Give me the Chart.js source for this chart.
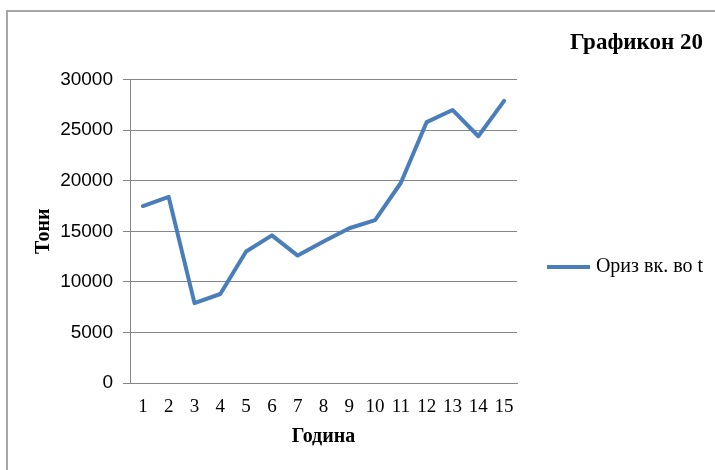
<!DOCTYPE html>
<html>
<head>
<meta charset="utf-8">
<script src="https://cdn.jsdelivr.net/npm/chart.js@4/dist/chart.umd.min.js"></script>
<style>
  html, body { margin: 0; padding: 0; background: #fff; overflow: hidden; }
  #frame { position: absolute; left: 6px; top: 10px; width: 800px; height: 600px;
           border-left: 2px solid #a6a6a6; border-top: 2px solid #a6a6a6; }
  #wrap { position: absolute; left: 0; top: 0; width: 715px; height: 470px; }
</style>
</head>
<body>
<div id="frame"></div>
<div id="wrap"><canvas id="c" width="715" height="470"></canvas></div>
<script>
const categories = ['1','2','3','4','5','6','7','8','9','10','11','12','13','14','15'];
const seriesName = 'Ориз вк. во t';
const riceValues = [17500, 18400, 7900, 8800, 13000, 14600, 12600, 14000, 15300, 16100, 19800, 25800, 27000, 24400, 27900];
const yTicks = [0, 5000, 10000, 15000, 20000, 25000, 30000];
const chartTitle = 'Графикон 20';
const xTitle = 'Година';
const yTitle = 'Тони';

const gray = '#868686';
const blue = '#4a7ebb';

new Chart(document.getElementById('c'), {
  type: 'line',
  data: {
    labels: categories,
    datasets: [{
      label: seriesName,
      data: riceValues,
      borderColor: blue,
      backgroundColor: blue,
      borderWidth: 4,
      pointRadius: 0,
      pointHoverRadius: 0,
      tension: 0,
      borderJoinStyle: 'round',
      borderCapStyle: 'round',
      fill: false
    }]
  },
  options: {
    responsive: false,
    animation: false,
    devicePixelRatio: 1,
    layout: { padding: { top: 20, right: 12, left: 0, bottom: 0 } },
    plugins: {
      title: {
        display: true,
        text: chartTitle,
        align: 'end',
        color: '#000',
        font: { family: 'Liberation Serif', size: 23, weight: 'bold' },
        padding: { top: 9, bottom: 23 }
      },
      legend: {
        display: true,
        position: 'right',
        maxWidth: 186,
        title: { display: true, text: ' ', font: { size: 10 }, padding: { top: 16, bottom: 16 } },
        labels: {
          usePointStyle: true,
          pointStyle: 'line',
          pointStyleWidth: 43,
          padding: 30,
          textAlign: 'right',
          color: '#000',
          font: { family: 'Liberation Serif', size: 20 }
        }
      },
      tooltip: { enabled: false }
    },
    scales: {
      x: {
        type: 'category',
        offset: true,
        grid: { display: false, drawTicks: false, tickLength: 0 },
        border: { display: true, color: gray, width: 1 },
        ticks: { color: '#000', padding: 13, maxRotation: 0, autoSkip: false,
                 font: { family: 'Liberation Serif', size: 19 } },
        title: { display: true, text: xTitle, color: '#000',
                 font: { family: 'Liberation Serif', size: 20, weight: 'bold' },
                 padding: { top: 0, bottom: 21 } },
        afterFit: (s) => { s.height = 87; }
      },
      y: {
        min: 0, max: 30000,
        afterBuildTicks: (s) => { s.ticks = yTicks.map(v => ({ value: v })); },
        grid: { color: gray, lineWidth: 1, drawTicks: true, tickLength: 7 },
        border: { display: true, color: gray, width: 1 },
        ticks: { color: '#000', padding: 10,
                 callback: (v) => String(v),
                 font: { family: 'Liberation Sans', size: 19 } },
        title: { display: true, text: yTitle, color: '#000',
                 font: { family: 'Liberation Serif', size: 20, weight: 'bold' },
                 padding: { top: 32, bottom: 0 } },
        afterFit: (s) => { s.width = 130; }
      }
    }
  }
});
</script>
</body>
</html>
